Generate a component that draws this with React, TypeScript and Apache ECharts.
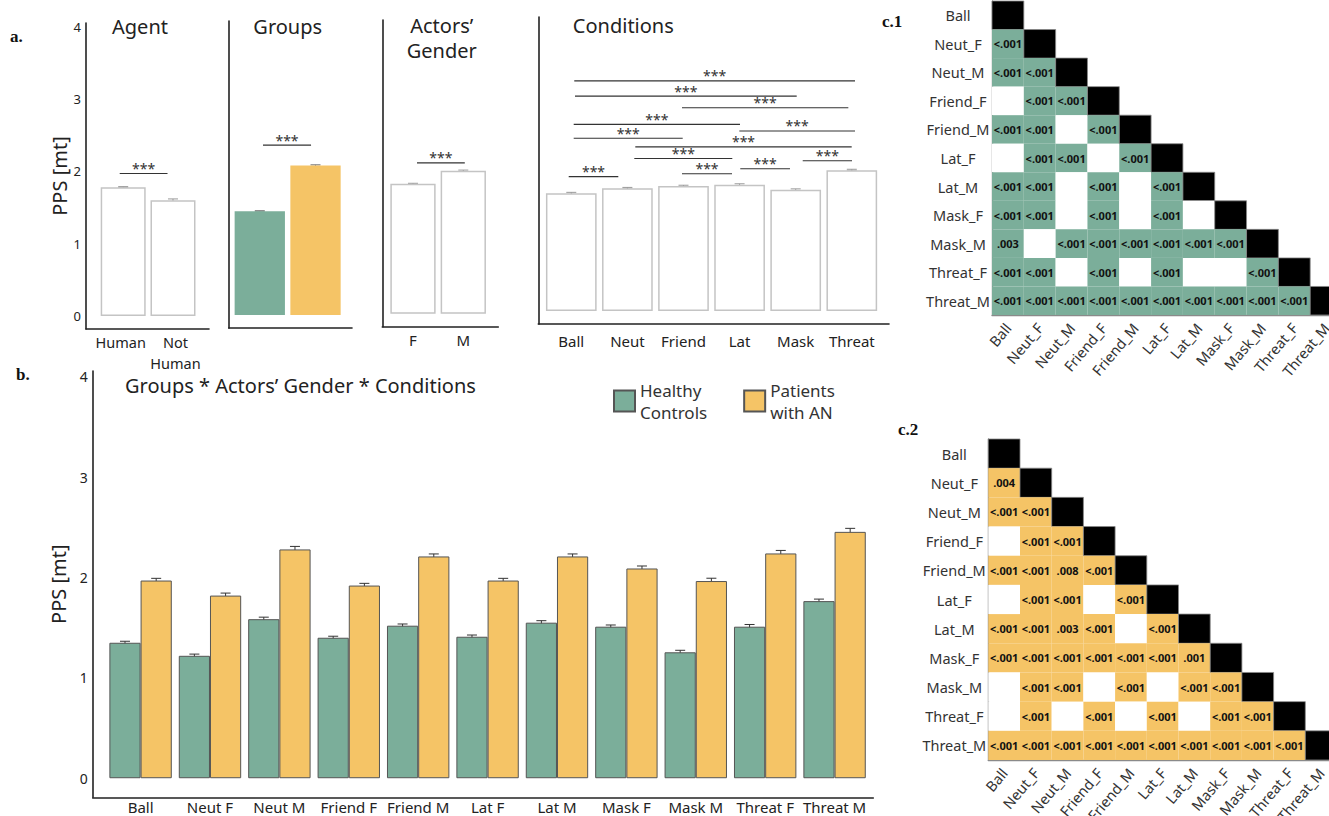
import React, { useEffect, useRef } from "react";
import * as echarts from "echarts";

const FONT = '"Noto Sans", "Open Sans", sans-serif';
const SERIF = '"Liberation Serif", "DejaVu Serif", serif';
const GREEN = "#7BAE9A";
const ORANGE = "#F5C466";
const INK = "#222";

// ---------------- data ----------------
const Y_TICKS = [0, 1, 2, 3, 4];

const AGENT_CATS = ["Human", "Not\nHuman"];
const AGENT_VALUES = [1.78, 1.6];
const AGENT_ERR = [0.008, 0.018];
const AGENT_SIG = [[-0.07, 0.89, 1.97]];

const GROUP_VALUES = [1.43, 2.06];
const GROUP_ERR = [0.008, 0.01];
const GROUP_SIG = [[0.057, 0.92, 2.34]];

const GENDER_CATS = ["F", "M"];
const GENDER_VALUES = [1.79, 1.97];
const GENDER_ERR = [0.008, 0.01];
const GENDER_SIG = [[0.08, 1.03, 2.08]];

const COND_CATS = ["Ball", "Neut", "Friend", "Lat", "Mask", "Threat"];
const COND_VALUES = [1.62, 1.69, 1.72, 1.74, 1.67, 1.94];
const COND_ERR = [0.014, 0.012, 0.012, 0.012, 0.012, 0.012];
// [from, to, height]
const COND_SIG = [
  [0.053, 5.057, 3.17],
  [0.066, 4.018, 2.96],
  [1.973, 4.938, 2.8],
  [0.043, 3.007, 2.57],
  [2.995, 5.057, 2.48],
  [0.043, 1.986, 2.38],
  [1.141, 4.998, 2.26],
  [1.123, 2.87, 2.1],
  [4.125, 5.004, 2.07],
  [3.012, 3.898, 1.96],
  [1.973, 2.865, 1.89],
  [-0.046, 0.838, 1.85],
];

const B_CATS = ["Ball", "Neut F", "Neut M", "Friend F", "Friend M", "Lat F", "Lat M", "Mask F", "Mask M", "Threat F", "Threat M"];
const HC_VALUES = [1.35, 1.22, 1.585, 1.4, 1.52, 1.41, 1.55, 1.51, 1.255, 1.51, 1.765];
const AN_VALUES = [1.97, 1.82, 2.28, 1.92, 2.21, 1.97, 2.21, 2.09, 1.965, 2.24, 2.455];
const HC_ERR = [0.015, 0.017, 0.02, 0.015, 0.017, 0.017, 0.02, 0.017, 0.02, 0.022, 0.02];
const AN_ERR = [0.022, 0.025, 0.03, 0.022, 0.025, 0.022, 0.025, 0.025, 0.028, 0.03, 0.035];
const HC_NAME = "Healthy\nControls";
const AN_NAME = "Patients\nwith AN";

const MATRIX_LABELS = ["Ball", "Neut_F", "Neut_M", "Friend_F", "Friend_M", "Lat_F", "Lat_M", "Mask_F", "Mask_M", "Threat_F", "Threat_M"];
const HC_P = [
  [],
  ["<.001"],
  ["<.001", "<.001"],
  ["", "<.001", "<.001"],
  ["<.001", "<.001", "", "<.001"],
  ["", "<.001", "<.001", "", "<.001"],
  ["<.001", "<.001", "", "<.001", "", "<.001"],
  ["<.001", "<.001", "", "<.001", "", "<.001", ""],
  [".003", "", "<.001", "<.001", "<.001", "<.001", "<.001", "<.001"],
  ["<.001", "<.001", "", "<.001", "", "<.001", "", "", "<.001"],
  ["<.001", "<.001", "<.001", "<.001", "<.001", "<.001", "<.001", "<.001", "<.001", "<.001"],
];
const AN_P = [
  [],
  [".004"],
  ["<.001", "<.001"],
  ["", "<.001", "<.001"],
  ["<.001", "<.001", ".008", "<.001"],
  ["", "<.001", "<.001", "", "<.001"],
  ["<.001", "<.001", ".003", "<.001", "", "<.001"],
  ["<.001", "<.001", "<.001", "<.001", "<.001", "<.001", ".001"],
  ["", "<.001", "<.001", "", "<.001", "", "<.001", "<.001"],
  ["", "<.001", "", "<.001", "", "<.001", "", "<.001", "<.001"],
  ["<.001", "<.001", "<.001", "<.001", "<.001", "<.001", "<.001", "<.001", "<.001", "<.001"],
];

// ---------------- helpers ----------------
const valX = (
  gridIndex: number,
  min: number,
  max: number,
  cats: string[] | null,
  margin = 5,
  extra: any = {},
  spread = 0
) => ({
  type: "value",
  gridIndex,
  min,
  max,
  splitLine: { show: false },
  axisTick: { show: false },
  axisLine: { show: true, onZero: false, lineStyle: { color: INK, width: 1.6 } },
  axisLabel: cats
    ? {
        show: true,
        hideOverlap: false,
        showMinLabel: true,
        showMaxLabel: true,
        customValues: cats.map((_, i) => i + (i === 0 ? -spread : i === cats.length - 1 ? spread : 0)),
        formatter: (v: number) => cats[Math.round(v)] ?? "",
        margin,
        color: INK,
        fontSize: 15,
        fontFamily: FONT,
        ...extra,
      }
    : { show: false },
});

const valY = (gridIndex: number, min: number, max: number, showLabels: boolean, fontSize = 13, name = "", nameGap = 25) => ({
  type: "value",
  gridIndex,
  min,
  max,
  splitLine: { show: false },
  axisTick: { show: false },
  axisLine: { show: true, onZero: false, lineStyle: { color: INK, width: 1.6 } },
  axisLabel: showLabels
    ? { show: true, showMinLabel: true, showMaxLabel: true, customValues: Y_TICKS, color: INK, fontSize, fontFamily: FONT, margin: 5 }
    : { show: false },
  name,
  nameLocation: "middle",
  nameGap,
  nameRotate: 90,
  nameTextStyle: { fontSize: 20, color: INK, fontFamily: FONT },
});

const catX = (gridIndex: number) => ({
  type: "category",
  gridIndex,
  data: MATRIX_LABELS,
  axisTick: { show: false },
  axisLine: { show: true, lineStyle: { color: "#8a8a8a", width: 1.4 } },
  axisLabel: { interval: 0, hideOverlap: false, rotate: 50, margin: 10, fontSize: 14.5, color: "#333", fontFamily: FONT },
  splitLine: { show: false },
});

const catY = (gridIndex: number) => ({
  type: "category",
  gridIndex,
  inverse: true,
  data: MATRIX_LABELS,
  axisTick: { show: false },
  axisLine: { show: true, lineStyle: { color: "#8a8a8a", width: 1.4 } },
  axisLabel: { interval: 0, hideOverlap: false, align: "center", margin: 34, fontSize: 14.5, color: "#333", fontFamily: FONT },
  splitLine: { show: false },
});

const errSeries = (axis: number, values: number[], errs: number[], color: string, dx: number, cap: number) => ({
  type: "custom",
  xAxisIndex: axis,
  yAxisIndex: axis,
  silent: true,
  encode: { x: 0, y: 1 },
  data: values.map((v, i) => [i, v, errs[i]]),
  renderItem: (_p: any, api: any) => {
    const x = api.value(0);
    const y = api.value(1);
    const e = api.value(2);
    const top = api.coord([x, y + e]);
    const bot = api.coord([x, y - e]);
    const cx = top[0] + dx;
    const st = { stroke: color, lineWidth: 1 };
    return {
      type: "group",
      children: [
        { type: "line", shape: { x1: cx, y1: top[1], x2: cx, y2: bot[1] }, style: st },
        { type: "line", shape: { x1: cx - cap / 2, y1: top[1], x2: cx + cap / 2, y2: top[1] }, style: st },
        { type: "line", shape: { x1: cx - cap / 2, y1: bot[1], x2: cx + cap / 2, y2: bot[1] }, style: st },
      ],
    };
  },
});

const sigSeries = (axis: number, sig: number[][]) => ({
  type: "custom",
  xAxisIndex: axis,
  yAxisIndex: axis,
  silent: true,
  encode: { x: [0, 1], y: 2 },
  data: sig,
  renderItem: (_p: any, api: any) => {
    const p1 = api.coord([api.value(0), api.value(2)]);
    const p2 = api.coord([api.value(1), api.value(2)]);
    return {
      type: "group",
      children: [
        { type: "line", shape: { x1: p1[0], y1: p1[1], x2: p2[0], y2: p2[1] }, style: { stroke: "#333", lineWidth: 1.1 } },
        {
          type: "text",
          x: (p1[0] + p2[0]) / 2,
          y: p1[1] - 5,
          style: {
            text: "***",
            font: `14px ${FONT}`,
            fill: "#333",
            align: "center",
            textAlign: "center",
            verticalAlign: "middle",
            textVerticalAlign: "middle",
          },
        },
      ],
    };
  },
});

const matrixSeries = (axis: number, P: string[][], color: string) => {
  const data: number[][] = [];
  const labels: string[] = [];
  P.forEach((row, r) => {
    row.forEach((p, c) => {
      data.push([c, r, p ? 1 : 0]);
      labels.push(p);
    });
    data.push([r, r, 2]);
    labels.push("");
  });
  return {
    type: "custom",
    xAxisIndex: axis,
    yAxisIndex: axis,
    silent: true,
    encode: { x: 0, y: 1 },
    data,
    renderItem: (params: any, api: any) => {
      const c = api.value(0);
      const r = api.value(1);
      const kind = api.value(2);
      const pt = api.coord([c, r]);
      const sz = api.size([1, 1]);
      const w = sz[0];
      const h = sz[1];
      const fill = kind === 2 ? "#000" : kind === 1 ? color : "#fff";
      return {
        type: "group",
        children: [
          {
            type: "rect",
            shape: { x: pt[0] - w / 2, y: pt[1] - h / 2, width: w, height: h },
            style: { fill, stroke: kind === 2 ? "#888" : null, lineWidth: kind === 2 ? 0.8 : 0 },
          },
          {
            type: "text",
            x: pt[0],
            y: pt[1],
            style: {
              text: labels[params.dataIndex],
              font: `bold 11px ${FONT}`,
              fill: "#111",
              align: "center",
              textAlign: "center",
              verticalAlign: "middle",
              textVerticalAlign: "middle",
            },
          },
        ],
      };
    },
  };
};

const txt = (text: string, x: number, y: number, font: string, align = "left", extra: any = {}) => ({
  type: "text",
  x,
  y,
  silent: true,
  style: {
    text,
    font,
    fill: INK,
    align,
    textAlign: align,
    verticalAlign: "middle",
    textVerticalAlign: "middle",
    ...extra,
  },
});

export default function App() {
  const ref = useRef<HTMLDivElement>(null);

  useEffect(() => {
    if (!ref.current) return;
    const chart = echarts.init(ref.current, null, { renderer: "svg" });

    const g = (left: number, top: number, width: number, height: number) => ({
      left,
      top,
      width,
      height,
      containLabel: false,
      outerBoundsMode: "none",
    });

    const option: any = {
      animation: false,
      backgroundColor: "#fff",
      grid: [
        g(86, 23, 123, 306),
        g(228.7, 21, 123.3, 307),
        g(382.3, 20, 116, 306.7),
        g(538.3, 17, 350.7, 307),
        g(92.7, 371, 780.6, 426.3),
        g(992, 1, 350, 314),
        g(988.3, 439, 348.7, 321),
      ],
      xAxis: [
        valX(0, -0.747, 1.723, AGENT_CATS, 2, { lineHeight: 21, fontSize: 14.5 }, 0.05),
        valX(1, -0.558, 1.655, null),
        valX(2, -0.61, 1.696, GENDER_CATS, 6),
        valX(3, -0.588, 5.663, COND_CATS, 9),
        valX(4, -0.69, 10.558, B_CATS, 2),
        catX(5),
        catX(6),
      ],
      yAxis: [
        valY(0, -0.18, 4.05, true, 13, "PPS [mt]", 16),
        valY(1, -0.18, 4.05, false),
        valY(2, -0.18, 4.05, false),
        valY(3, -0.18, 4.05, false),
        valY(4, -0.19, 4.058, true, 14, "PPS [mt]", 18),
        catY(5),
        catY(6),
      ],
      legend: {
        data: [HC_NAME, AN_NAME],
        left: 613,
        top: 379,
        padding: 0,
        itemWidth: 21,
        itemHeight: 21,
        itemGap: 36,
        icon: "rect",
        selectedMode: false,
        textStyle: { fontSize: 17, color: "#333", fontFamily: FONT, lineHeight: 22 },
      },
      series: [
        // a. Agent
        {
          type: "bar",
          name: "Agent",
          xAxisIndex: 0,
          yAxisIndex: 0,
          barWidth: 45,
          silent: true,
          data: AGENT_VALUES.map((v, i) => [i, v]),
          itemStyle: { color: "#fff", borderColor: "#c4c4c4", borderWidth: 1.5 },
        },
        errSeries(0, AGENT_VALUES, AGENT_ERR, "#999", 0, 10),
        sigSeries(0, AGENT_SIG),
        // a. Groups
        {
          type: "bar",
          name: "Groups",
          xAxisIndex: 1,
          yAxisIndex: 1,
          barWidth: 50.3,
          silent: true,
          data: GROUP_VALUES.map((v, i) => ({ value: [i, v], itemStyle: { color: i === 0 ? GREEN : ORANGE } })),
        },
        errSeries(1, GROUP_VALUES, GROUP_ERR, "#888", 0, 10),
        sigSeries(1, GROUP_SIG),
        // a. Actors' gender
        {
          type: "bar",
          name: "Gender",
          xAxisIndex: 2,
          yAxisIndex: 2,
          barWidth: 45.3,
          silent: true,
          data: GENDER_VALUES.map((v, i) => [i, v]),
          itemStyle: { color: "#fff", borderColor: "#c4c4c4", borderWidth: 1.5 },
        },
        errSeries(2, GENDER_VALUES, GENDER_ERR, "#999", 0, 10),
        sigSeries(2, GENDER_SIG),
        // a. Conditions
        {
          type: "bar",
          name: "Conditions",
          xAxisIndex: 3,
          yAxisIndex: 3,
          barWidth: 50.7,
          silent: true,
          data: COND_VALUES.map((v, i) => [i, v]),
          itemStyle: { color: "#fff", borderColor: "#c4c4c4", borderWidth: 1.5 },
        },
        errSeries(3, COND_VALUES, COND_ERR, "#999", 0, 10),
        sigSeries(3, COND_SIG),
        // b.
        {
          type: "bar",
          name: HC_NAME,
          xAxisIndex: 4,
          yAxisIndex: 4,
          barWidth: 31.2,
          barGap: "0%",
          silent: true,
          data: HC_VALUES.map((v, i) => [i, v]),
          itemStyle: { color: GREEN, borderColor: "#555", borderWidth: 1 },
        },
        {
          type: "bar",
          name: AN_NAME,
          xAxisIndex: 4,
          yAxisIndex: 4,
          barWidth: 31.2,
          barGap: "0%",
          silent: true,
          data: AN_VALUES.map((v, i) => [i, v]),
          itemStyle: { color: ORANGE, borderColor: "#555", borderWidth: 1 },
        },
        errSeries(4, HC_VALUES, HC_ERR, "#333", -15.6, 10),
        errSeries(4, AN_VALUES, AN_ERR, "#333", 15.6, 10),
        // c.1 / c.2
        matrixSeries(5, HC_P, GREEN),
        matrixSeries(6, AN_P, ORANGE),
      ],
      graphic: {
        elements: [
          txt("a.", 10, 36, `bold 17px ${SERIF}`, "left", { fill: "#111" }),
          txt("b.", 16, 374, `bold 17px ${SERIF}`, "left", { fill: "#111" }),
          txt("c.1", 882, 21, `bold 17px ${SERIF}`, "left", { fill: "#111" }),
          txt("c.2", 898, 429, `bold 17px ${SERIF}`, "left", { fill: "#111" }),
          txt("Agent", 140, 26, `20px ${FONT}`, "center"),
          txt("Groups", 287.7, 26, `20px ${FONT}`, "center"),
          txt("Actors\u2019\nGender", 441.7, 38.3, `20px ${FONT}`, "center", { lineHeight: 25.3 }),
          txt("Conditions", 623.3, 25, `20px ${FONT}`, "center"),
          txt("Groups * Actors\u2019 Gender * Conditions", 125, 385, `20px ${FONT}`, "left"),
        ],
      },
    };

    chart.setOption(option);
    return () => chart.dispose();
  }, []);

  return (
    <div
      ref={ref}
      style={{ position: "absolute", left: 0, top: 0, width: 1329, height: 816, background: "#fff" }}
    />
  );
}
